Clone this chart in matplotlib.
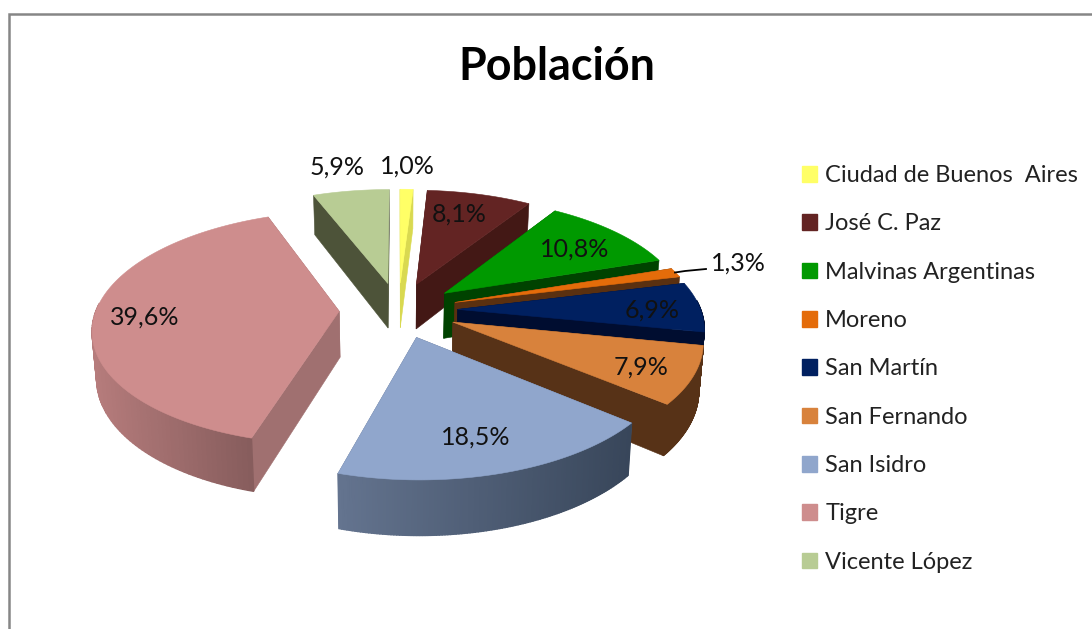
import matplotlib
matplotlib.use('Agg')
import matplotlib.pyplot as plt
import numpy as np
from matplotlib.patches import Polygon, Patch

plt.rcParams['font.family'] = ['Lato', 'DejaVu Sans']

# Datos
partidos = ['Ciudad de Buenos  Aires', 'José C. Paz', 'Malvinas Argentinas', 'Moreno', 'San Martín',
            'San Fernando', 'San Isidro', 'Tigre', 'Vicente López']
valores = [1.0, 8.1, 10.8, 1.3, 6.9, 7.9, 18.5, 39.6, 5.9]

# Colores: cara superior, pared (inicio y fin del degradado)
color_top = ['#FFFF66', '#632423', '#009900', '#E46C0A', '#002060', '#D8823C', '#90A6CC', '#CE8D8D', '#B8CC94']
color_lado = ['#D9D950', '#431815', '#004200', '#5A3010', '#000D30', '#573217', '#5F6F8C', '#A07070', '#4D5339']
color_ini = ['#D9D950', '#431815', '#004200', '#5A3010', '#000D30', '#573217', '#64748F', '#B67C7C', '#4D5339']
color_fin = ['#D9D950', '#431815', '#004200', '#5A3010', '#000D30', '#573217', '#38465A', '#875D5D', '#4D5339']

# Posicion de las etiquetas en pixeles
pos_etiqueta = [(407, 166), (459, 214), (575, 249), (738, 263), (652, 310),
                (641, 367), (476, 437), (145, 317), (337, 167)]

# Parametros de la proyeccion
cx, cy = 398.5, 310
a, b = 243, 114
k = 0.14
explode = 0.244
prof = 46


def proyectar(u, v, z=0.0):
    s = 1 / (1 + k * v)
    x = cx + a * u * s * (1 - 0.015 * z)
    y = cy - b * v * s + z * prof * s
    return x, y


def puntos(u, v, z=0.0):
    x, y = proyectar(np.asarray(u), np.asarray(v), z)
    return np.column_stack([x, y])


fig = plt.figure(figsize=(10.92, 6.29), dpi=100)
ax = fig.add_axes([0, 0, 1, 1])
ax.set_xlim(0, 1092)
ax.set_ylim(629, 0)
ax.axis('off')

# Marco del grafico
ax.plot([8.5, 8.5, 1092], [629, 13.5, 13.5], color='#868686', linewidth=1.8, solid_joinstyle='miter')

limites = np.cumsum([0] + valores) / sum(valores) * 2 * np.pi
for i in range(len(valores)):
    t0, t1 = limites[i], limites[i + 1]
    medio = (t0 + t1) / 2
    du, dv = explode * np.sin(medio), explode * np.cos(medio)
    t = np.linspace(t0, t1, 120)
    u = du + np.sin(t)
    v = dv + np.cos(t)

    # paredes radiales
    for tb in (t0, t1):
        ub, vb = du + np.sin(tb), dv + np.cos(tb)
        q = np.vstack([puntos([du, ub], [dv, vb]), puntos([ub, du], [vb, dv], 1.0)])
        ax.add_patch(Polygon(q, closed=True, facecolor=color_lado[i], edgecolor=color_lado[i], linewidth=0.4))

    # pared exterior, solo la parte que mira al frente
    vis = np.where(np.cos(t) < 0.08)[0]
    if len(vis) > 1:
        ini = np.array(matplotlib.colors.to_rgb(color_ini[i]))
        fin = np.array(matplotlib.colors.to_rgb(color_fin[i]))
        xs = proyectar(u[vis], v[vis])[0]
        for j in range(len(vis) - 1):
            m, n = vis[j], vis[j + 1]
            q = np.vstack([puntos([u[m], u[n]], [v[m], v[n]]), puntos([u[n], u[m]], [v[n], v[m]], 1.0)])
            f = (xs[j] - xs.min()) / (xs.max() - xs.min())
            c = ini + (fin - ini) * f
            ax.add_patch(Polygon(q, closed=True, facecolor=c, edgecolor=c, linewidth=1.0))

    # cara superior
    cara = np.vstack([puntos([du], [dv]), puntos(u, v)])
    ax.add_patch(Polygon(cara, closed=True, facecolor=color_top[i], edgecolor=color_top[i], linewidth=0.4))

    ax.text(pos_etiqueta[i][0], pos_etiqueta[i][1], f'{valores[i]:.1f}%'.replace('.', ','),
            ha='center', va='center', fontsize=18, color='#111111', zorder=5)

# Linea guia de Moreno
ax.plot([675, 685, 706], [272.5, 271, 269], color='black', linewidth=1.3, zorder=5)

ax.text(557, 67, 'Población', ha='center', va='center', fontsize=32.3, fontweight='bold', color='black')

handles = [Patch(facecolor=c, edgecolor=c) for c in color_top]
ax.legend(handles, partidos, loc='upper left', bbox_to_anchor=(802 / 1092, 1 - 165 / 629),
          frameon=False, fontsize=17, labelcolor='#222222', labelspacing=1.158,
          handlelength=0.64, handleheight=0.64, handletextpad=0.34, borderpad=0, borderaxespad=0)

plt.savefig('out.png', dpi=100)
